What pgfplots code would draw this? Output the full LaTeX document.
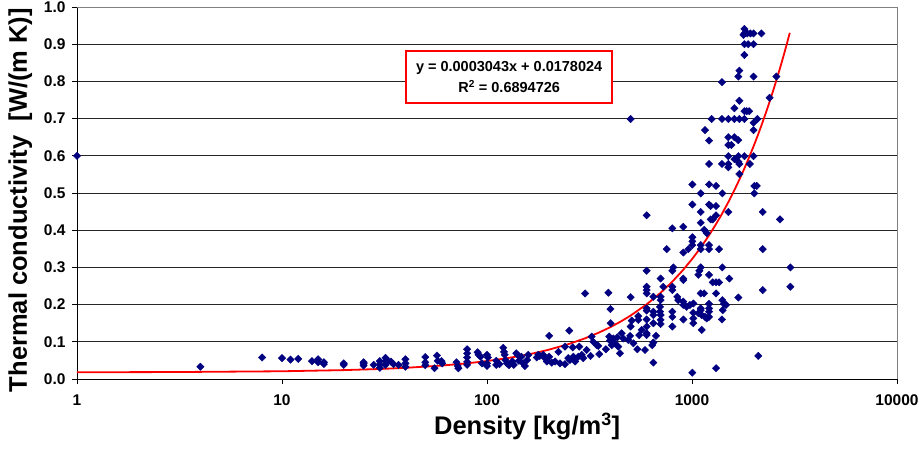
\documentclass[border=0pt]{standalone}
\usepackage{fontspec}
\setmainfont{Liberation Sans}
\usepackage{pgfplots}
\pgfplotsset{compat=1.18}
\usepackage{pgfplotstable}
\definecolor{navy}{RGB}{0,0,128}
\pgfplotstableread{
x y
1 0.600
4 0.033
8 0.058
10 0.056
11 0.052
12 0.054
14 0.048
15 0.053
15 0.045
16 0.045
16 0.040
20 0.042
20 0.038
25 0.045
25 0.036
25 0.041
28 0.038
30 0.048
30 0.039
30 0.030
32 0.057
32 0.048
32 0.038
33 0.048
34 0.047
35 0.040
37 0.038
40 0.053
40 0.042
40 0.033
50 0.059
50 0.045
50 0.037
55.5 0.029
57 0.063
57.5 0.049
60 0.048
60.5 0.042
71 0.045
72 0.035
72.5 0.029
80 0.080
80 0.069
80 0.058
80 0.046
80 0.038
90 0.072
91 0.065
93 0.060
94.5 0.042
100 0.065
100 0.042
100 0.035
101 0.058
111 0.049
111 0.038
115 0.040
120 0.084
121 0.073
122 0.065
123 0.051
125 0.042
128 0.037
133 0.047
135 0.038
139 0.069
141 0.065
143 0.049
147 0.060
150 0.042
153 0.035
157 0.051
159 0.065
175 0.058
178 0.065
181 0.062
188 0.065
192 0.056
196 0.047
201 0.060
201 0.116
207 0.044
215 0.047
223 0.073
227 0.042
240 0.087
240 0.040
249 0.056
252 0.130
254 0.051
262 0.085
264 0.060
269 0.047
279 0.060
282 0.087
290 0.065
295 0.056
301 0.230
306 0.078
320 0.062
324 0.114
330 0.100
343 0.091
349 0.089
353 0.067
380 0.080
391 0.232
395 0.114
398 0.103
400 0.188
401 0.150
406 0.091
413 0.109
421 0.096
432 0.112
437 0.087
445 0.069
454 0.123
462 0.109
489 0.105
499 0.116
502 0.141
502 0.220
502 0.699
508 0.157
518 0.096
541 0.080
547 0.169
547 0.159
553 0.118
568 0.132
1004 0.523
1103 0.499
1211 0.523
1310 0.519
1406 0.499
1004 0.469
1103 0.449
1211 0.469
1233 0.465
1310 0.465
601 0.440
1103 0.420
1233 0.429
1262 0.429
1310 0.440
1504 0.449
2014 0.519
2070 0.519
2014 0.499
2213 0.449
2687 0.429
802 0.405
907 0.409
1148 0.401
1180 0.392
1004 0.381
1004 0.370
1004 0.360
960 0.349
907 0.340
753 0.349
1103 0.360
1103 0.349
1211 0.360
1211 0.349
1355 0.349
2213 0.349
811 0.300
802 0.291
601 0.291
907 0.270
907 0.266
1103 0.300
1086 0.291
1074 0.280
1211 0.280
1406 0.300
1521 0.270
1262 0.260
1310 0.260
1355 0.260
703 0.270
724 0.248
601 0.248
601 0.239
601 0.230
802 0.248
802 0.239
2213 0.239
1310 0.230
1103 0.230
1145 0.230
1683 0.219
648 0.221
703 0.221
703 0.212
848 0.221
857 0.212
907 0.208
907 0.199
977 0.199
942 0.194
1015 0.203
1103 0.190
1103 0.185
1211 0.202
1211 0.190
1211 0.181
1211 0.167
1406 0.212
1433 0.202
1466 0.199
1412 0.185
601 0.190
601 0.184
648 0.181
648 0.172
698 0.194
698 0.181
703 0.172
703 0.159
703 0.148
802 0.181
802 0.167
802 0.141
907 0.160
1015 0.178
1015 0.163
1015 0.150
1074 0.177
1115 0.172
1157 0.167
1115 0.132
1180 0.163
1400 0.160
601 0.160
648 0.150
601 0.141
601 0.123
601 0.118
667 0.116
648 0.098
640 0.091
590 0.078
648 0.044
1004 0.017
1310 0.029
2105 0.062
3020 0.300
3020 0.248
1802 0.941
1802 0.929
1782 0.925
1860 0.929
1928 0.929
1997 0.929
2180 0.929
1802 0.900
1880 0.900
1997 0.900
1802 0.871
1703 0.829
1683 0.813
1997 0.813
1400 0.798
2580 0.813
1703 0.748
1610 0.728
1802 0.720
1848 0.720
1900 0.720
2390 0.756
1247 0.699
1400 0.699
1504 0.699
1610 0.699
1703 0.699
1802 0.699
1997 0.689
2085 0.699
1157 0.669
1997 0.669
1211 0.641
1504 0.650
1610 0.650
1683 0.642
1504 0.629
1556 0.629
1504 0.599
1683 0.599
1802 0.599
1997 0.599
1211 0.578
1400 0.578
1504 0.578
1610 0.591
1683 0.584
1703 0.578
1915 0.578
1504 0.569
1703 0.551
}\pts
\begin{document}
\begin{tikzpicture}
\useasboundingbox (-77pt,-69pt) rectangle (842pt,379pt);
\begin{axis}[
  at={(0,0)}, anchor=south west,
  scale only axis, width=820pt, height=372pt,
  xmode=log, xmin=1, xmax=10000, ymin=0, ymax=1,
  xtick={1,10,100,1000,10000}, xticklabels={1,10,100,1000,10000},
  xminorticks=false,
  ytick={0,0.1,0.2,0.3,0.4,0.5,0.6,0.7,0.8,0.9,1},
  axis x line*=bottom, axis y line*=left,
  axis line style={-, black, line width=0.9pt},
  tick align=outside, major tick length=5pt,
  tick style={black, line width=0.9pt},
  ymajorgrids, major grid style={black!85, line width=0.9pt},
  tick label style={font=\fontsize{15.5}{18}\selectfont\bfseries},
  xticklabel style={yshift=-7pt},
  yticklabel style={xshift=-3pt, /pgf/number format/.cd, fixed, fixed zerofill, precision=1},
  /pgf/number format/assume math mode=true,
  xlabel={Density [kg/m\textsuperscript{3}]},
  ylabel={Thermal conductivity\ \ [W/(m K)]},
  label style={font=\fontsize{25.5}{30}\selectfont\bfseries},
  xlabel style={at={(axis description cs:0.549,-0.1505)}, anchor=base},
  ylabel style={at={(axis description cs:-0.061,0.481)}, anchor=base},
  clip=false,
]
\draw[gray, line width=0.9pt] (rel axis cs:0,1) -- (rel axis cs:1,1) -- (rel axis cs:1,0);
\addplot[only marks, mark=square*, mark size=2.6pt, mark options={rotate=45, fill=navy, draw=navy}, navy] table {\pts};
\addplot[red, line width=1.8pt, no marks] coordinates {
(1,0.0181) (3,0.0187) (10,0.0208) (20,0.0239) (30,0.0269) (40,0.0300) (60,0.0361) (80,0.0421)
(100,0.0482) (125,0.0558) (150,0.0634) (175,0.0710) (200,0.0787) (250,0.0939) (300,0.1091)
(350,0.1243) (400,0.1395) (450,0.1547) (500,0.1700) (600,0.2004) (700,0.2308) (800,0.2612)
(900,0.2917) (1000,0.3221) (1100,0.3525) (1200,0.3830) (1300,0.4134) (1400,0.4438)
(1500,0.4743) (1600,0.5047) (1700,0.5351) (1800,0.5656) (1900,0.5960) (2000,0.6264)
(2100,0.6568) (2200,0.6873) (2300,0.7177) (2400,0.7481) (2500,0.7786) (2600,0.8090)
(2700,0.8394) (2800,0.8698) (2900,0.9003) (3000,0.9307)};
\node[draw=red, line width=1.5pt, fill=white, minimum width=206pt, minimum height=52pt, inner sep=0pt, align=center, font=\fontsize{14.5}{21}\selectfont\bfseries] at (rel axis cs:0.527,0.812) {y = 0.0003043x + 0.0178024\\R\textsuperscript{2} = 0.6894726};
\end{axis}
\end{tikzpicture}
\end{document}
